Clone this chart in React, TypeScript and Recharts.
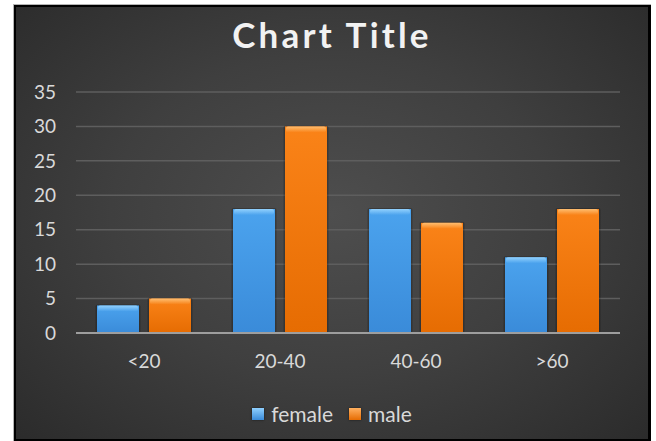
import React from 'react';
import { BarChart, Bar, XAxis, YAxis, CartesianGrid, Legend } from 'recharts';

// Age groups and counts per series
const categories = ['<20', '20-40', '40-60', '>60'];
const femaleValues = [4, 18, 18, 11];
const maleValues = [5, 30, 16, 18];
const yTicks = [0, 5, 10, 15, 20, 25, 30, 35];
const seriesNames = ['female', 'male'];

const data = categories.map((name, i) => ({
  name,
  female: femaleValues[i],
  male: maleValues[i],
}));

const FONT = 'Lato, "Open Sans", sans-serif';

const tones: Record<string, { top: string; main: string; bottom: string }> = {
  female: { top: '#9ad6ff', main: '#4ba3ee', bottom: '#3a8bd9' },
  male: { top: '#ffc47a', main: '#fa8318', bottom: '#e66c02' },
};

function GlossyBar(props: any) {
  const { x, y, width, height, tone } = props;
  if (!height || height <= 0) return null;
  const hl = Math.min(6, height / 3);
  return (
    <g>
      <rect x={x - 1.5} y={y - 1} width={width + 3} height={height + 1} fill="rgba(0,0,0,0.22)" rx={2} />
      <rect x={x} y={y} width={width} height={height} fill={`url(#grad-${tone})`} />
      <rect x={x + 1} y={y} width={width - 2} height={hl} fill={`url(#hl-${tone})`} rx={2} />
    </g>
  );
}

function LegendContent() {
  const items = [
    { key: 'female', grad: 'linear-gradient(#8fd0ff, #3a8bd9)' },
    { key: 'male', grad: 'linear-gradient(#ffb060, #e66c02)' },
  ];
  return (
    <div
      style={{
        display: 'flex',
        justifyContent: 'center',
        alignItems: 'center',
        gap: 16,
        fontFamily: FONT,
        fontSize: 21,
        color: '#d9d9d9',
        lineHeight: '24px',
      }}
    >
      {items.map((it, i) => (
        <div key={it.key} style={{ display: 'flex', alignItems: 'center', gap: 7 }}>
          <span
            style={{
              display: 'inline-block',
              width: 12,
              height: 12,
              background: it.grad,
              boxShadow: '0 0 2px rgba(0,0,0,0.6)',
            }}
          />
          <span>{seriesNames[i]}</span>
        </div>
      ))}
    </div>
  );
}

export default function App() {
  return (
    <div style={{ position: 'absolute', left: 0, top: 0, width: 656, height: 441, background: '#ffffff', overflow: 'hidden' }}>
      <div
        style={{
          position: 'absolute',
          left: 13,
          top: 4,
          width: 638,
          height: 440,
          boxSizing: 'border-box',
          borderTop: '1px solid #b4b4b4',
          borderLeft: '1px solid #b4b4b4',
          background: '#000',
        }}
      >
        <div
          style={{
            position: 'absolute',
            left: 2,
            top: 2,
            width: 632,
            height: 432,
            background: 'radial-gradient(ellipse 70% 75% at 50% 48%, #4e4e4e 0%, #3f3f3f 50%, #2b2b2b 100%)',
          }}
        />
      </div>
      <div
        style={{
          position: 'absolute',
          left: 16,
          top: 13,
          width: 632,
          textAlign: 'center',
          fontFamily: FONT,
          fontWeight: 700,
          fontSize: 35,
          letterSpacing: 3.2,
          color: '#f2f2f2',
        }}
      >
        Chart Title
      </div>
      <div style={{ position: 'absolute', left: 0, top: 0 }}>
        <BarChart
          width={656}
          height={441}
          data={data}
          margin={{ top: 92, right: 36, bottom: 54, left: 0 }}
          barSize={42}
          barGap={10}
        >
          <defs>
            {Object.keys(tones).map((k) => (
              <linearGradient key={k} id={`grad-${k}`} x1="0" y1="0" x2="0" y2="1">
                <stop offset="0%" stopColor={tones[k].main} />
                <stop offset="100%" stopColor={tones[k].bottom} />
              </linearGradient>
            ))}
            {Object.keys(tones).map((k) => (
              <linearGradient key={`h${k}`} id={`hl-${k}`} x1="0" y1="0" x2="0" y2="1">
                <stop offset="0%" stopColor={tones[k].top} stopOpacity={0.9} />
                <stop offset="100%" stopColor={tones[k].top} stopOpacity={0} />
              </linearGradient>
            ))}
          </defs>
          <CartesianGrid vertical={false} stroke="#5e5e5e" strokeWidth={1.5} />
          <XAxis
            dataKey="name"
            axisLine={{ stroke: '#9e9e9e', strokeWidth: 2 }}
            tickLine={false}
            tickSize={0}
            tickMargin={22}
            height={30}
            tick={{ fill: '#d9d9d9', fontSize: 19, fontFamily: FONT }}
          />
          <YAxis
            domain={[0, 35]}
            ticks={yTicks}
            width={76}
            axisLine={false}
            tickLine={false}
            tickSize={0}
            tickMargin={20}
            tick={{ fill: '#d9d9d9', fontSize: 19, fontFamily: FONT }}
          />
          <Legend
            content={<LegendContent />}
            wrapperStyle={{ position: 'absolute', left: 16, top: 402, width: 632, height: 24 }}
          />
          <Bar dataKey="female" isAnimationActive={false} shape={(p: any) => <GlossyBar {...p} tone="female" />} />
          <Bar dataKey="male" isAnimationActive={false} shape={(p: any) => <GlossyBar {...p} tone="male" />} />
        </BarChart>
      </div>
    </div>
  );
}
